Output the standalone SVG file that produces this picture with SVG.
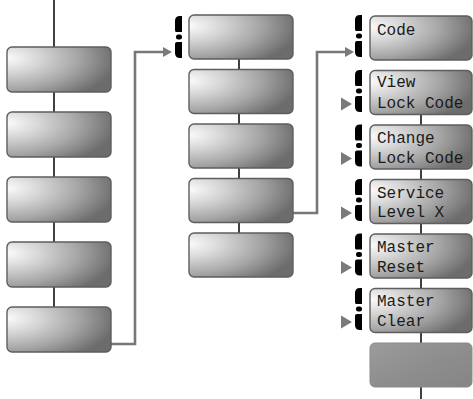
<svg xmlns="http://www.w3.org/2000/svg" width="473" height="399" viewBox="0 0 473 399">
<style>
.box{fill:url(#g);stroke:#5e5e5e;stroke-width:1.4}
.last{fill:url(#g2);stroke:#8a8a8a;stroke-width:1}
.ln{stroke:#111;stroke-width:1.6;fill:none}
.con{stroke:#777;stroke-width:2.6;fill:none}
.br{fill:#000}
.tri{fill:#7a7a7a}
.t{font-family:"Liberation Mono","DejaVu Sans Mono",monospace;font-size:16px;fill:#1a1a1a}
</style>
<defs>
<radialGradient id="g" cx="0" cy="0.25" r="1.05" fx="0" fy="0.25">
<stop offset="0" stop-color="#fbfbfb"/>
<stop offset="0.3" stop-color="#d6d6d6"/>
<stop offset="0.65" stop-color="#a6a6a6"/>
<stop offset="1" stop-color="#6c6c6c"/>
</radialGradient>
<linearGradient id="g2" x1="0" y1="0" x2="1" y2="1">
<stop offset="0" stop-color="#9c9c9c"/>
<stop offset="0.5" stop-color="#8e8e8e"/>
<stop offset="1" stop-color="#858585"/>
</linearGradient>
<g id="brk">
<path class="br" d="M7,0 L7,16 L1,16 Q0,16 0,14 L0,5 Q0,0 5,0 Z"/>
<rect class="br" x="1" y="18.5" width="6" height="5" rx="2.2"/>
<path class="br" d="M7,26 L7,42 L5,42 Q0,42 0,37 L0,28 Q0,26 2,26 Z"/>
</g>
</defs>

<g id="connectors">
<line class="ln" x1="54" y1="0" x2="54" y2="47"/>
<line class="ln" x1="54" y1="92" x2="54" y2="112"/>
<line class="ln" x1="54" y1="157" x2="54" y2="177"/>
<line class="ln" x1="54" y1="222" x2="54" y2="242"/>
<line class="ln" x1="54" y1="287" x2="54" y2="307"/>
<line class="ln" x1="239" y1="59" x2="239" y2="69.5"/>
<line class="ln" x1="239" y1="113.5" x2="239" y2="124"/>
<line class="ln" x1="239" y1="168" x2="239" y2="178.5"/>
<line class="ln" x1="239" y1="222.5" x2="239" y2="233"/>
<line class="ln" x1="421" y1="114.5" x2="421" y2="125"/>
<line class="ln" x1="421" y1="169" x2="421" y2="179.5"/>
<line class="ln" x1="421" y1="223.5" x2="421" y2="234"/>
<line class="ln" x1="421" y1="278" x2="421" y2="288.5"/>
<line class="ln" x1="421" y1="332.5" x2="421" y2="343"/>
<line class="ln" x1="421" y1="387" x2="421" y2="399"/>
<path class="con" d="M111,344 H135 V52 H164"/>
<polygon class="tri" points="163,47 172,52 163,57"/>
<path class="con" d="M293,213 H317 V52 H346"/>
<polygon class="tri" points="345,47 354,52 345,57"/>
</g>

<g id="left1"><rect class="box" x="7" y="47" width="104" height="45" rx="5"/></g>
<g id="left2"><rect class="box" x="7" y="112" width="104" height="45" rx="5"/></g>
<g id="left3"><rect class="box" x="7" y="177" width="104" height="45" rx="5"/></g>
<g id="left4"><rect class="box" x="7" y="242" width="104" height="45" rx="5"/></g>
<g id="left5"><rect class="box" x="7" y="307" width="104" height="45" rx="5"/></g>

<g id="mid1"><use href="#brk" x="175" y="16"/><rect class="box" x="189" y="15" width="104" height="44" rx="5"/></g>
<g id="mid2"><rect class="box" x="189" y="69.5" width="104" height="44" rx="5"/></g>
<g id="mid3"><rect class="box" x="189" y="124" width="104" height="44" rx="5"/></g>
<g id="mid4"><rect class="box" x="189" y="178.5" width="104" height="44" rx="5"/></g>
<g id="mid5"><rect class="box" x="189" y="233" width="104" height="44" rx="5"/></g>

<g id="code"><use href="#brk" x="355" y="15"/><rect class="box" x="370" y="16" width="102" height="44" rx="5"/><text class="t" x="377" y="35">Code</text></g>
<g id="view"><use href="#brk" x="355" y="70"/><polygon class="tri" points="341,97.5 352,104 341,110.5"/><rect class="box" x="370" y="70.5" width="102" height="44" rx="5"/><text class="t" x="377" y="87">View</text><text class="t" x="377" y="108">Lock Code</text></g>
<g id="change"><use href="#brk" x="355" y="124.5"/><polygon class="tri" points="341,152 352,158.5 341,165"/><rect class="box" x="370" y="125" width="102" height="44" rx="5"/><text class="t" x="377" y="143">Change</text><text class="t" x="377" y="163">Lock Code</text></g>
<g id="service"><use href="#brk" x="355" y="179"/><polygon class="tri" points="341,206.5 352,213 341,219.5"/><rect class="box" x="370" y="179.5" width="102" height="44" rx="5"/><text class="t" x="377" y="198">Service</text><text class="t" x="377" y="217">Level X</text></g>
<g id="reset"><use href="#brk" x="355" y="233.5"/><polygon class="tri" points="341,261 352,267.5 341,274"/><rect class="box" x="370" y="234" width="102" height="44" rx="5"/><text class="t" x="377" y="252">Master</text><text class="t" x="377" y="272">Reset</text></g>
<g id="clear"><use href="#brk" x="355" y="288"/><polygon class="tri" points="341,315.5 352,322 341,328.5"/><rect class="box" x="370" y="288.5" width="102" height="44" rx="5"/><text class="t" x="377" y="306">Master</text><text class="t" x="377" y="326">Clear</text></g>
<g id="blank"><rect class="last" x="370" y="343" width="102" height="44" rx="5"/></g>
</svg>
